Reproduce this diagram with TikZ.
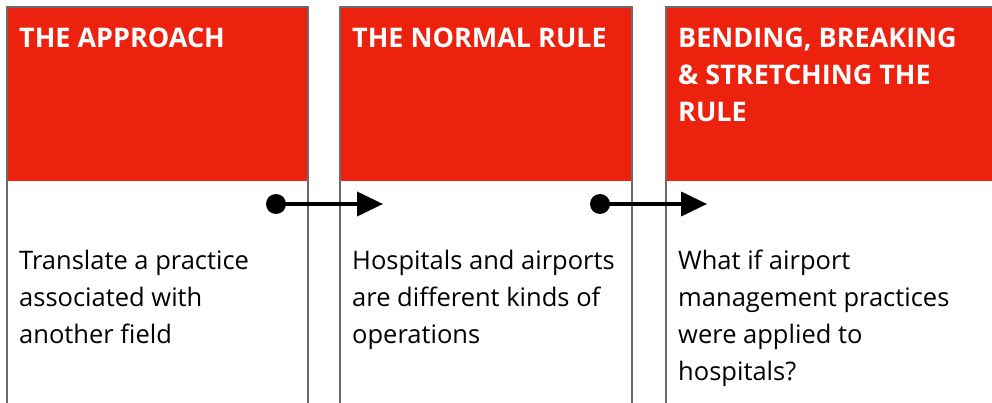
\documentclass[tikz,border=0pt]{standalone}
\usepackage{fontspec}
\setmainfont{Open Sans}
\usetikzlibrary{arrows.meta}
\definecolor{headred}{HTML}{EC220F}
\definecolor{rulegray}{HTML}{6B6B6B}
\tikzset{
  headbox/.style={fill=headred,anchor=north west,inner sep=0pt,minimum height=173pt},
  headtext/.style={anchor=base west,inner sep=0pt,align=left,text=white,
    font=\fontsize{27pt}{37pt}\selectfont\bfseries},
  bodytext/.style={anchor=base west,inner sep=0pt,align=left,text=black,
    font=\fontsize{25.5pt}{37pt}\selectfont},
  colrule/.style={draw=rulegray,line width=2pt},
  dot/.style={circle,fill=black,inner sep=0pt,minimum size=20pt},
  link/.style={line width=4pt,-{Triangle[length=26pt,width=24pt]}}
}
\begin{document}
\begin{tikzpicture}[x=1pt,y=-1pt]
        \useasboundingbox (0,0) rectangle (992,403);
        \begin{scope}[every node/.style={headbox}]
        \node[minimum width=301pt] (h1) at (7,8) {};
        \node[minimum width=292pt] (h2) at (340,8) {};
        \node[minimum width=326pt] (h3) at (666,8) {};
        \end{scope}
        \draw[colrule] (7,403) |- (308,7) -- (308,403);
        \draw[colrule] (340,403) |- (632,7) -- (632,403);
        \draw[colrule] (666,403) |- (993,7);
        % base anchor sits on the last line
        \node[headtext] (t1) at (19,48) {THE APPROACH};
        \node[headtext] (t2) at (352,48) {THE NORMAL RULE};
        \node[headtext] (t3) at (678,122) {BENDING, BREAKING\\\& STRETCHING THE\\RULE};
        \node[bodytext] (b1) at (19,343) {Translate a practice\\associated with\\another field};
        \node[bodytext] (b2) at (352,343) {Hospitals and airports\\are different kinds of\\operations};
        \node[bodytext] (b3) at (678,380) {What if airport\\management practices\\were applied to\\hospitals?};
        \node[dot] (d1) at (276,204) {};
        \node[dot] (d2) at (600,204) {};
        \coordinate (e1) at (383,204);
        \coordinate (e2) at (707,204);
        \draw[link] (d1.center) -- (e1);
        \draw[link] (d2.center) -- (e2);
\end{tikzpicture}
\end{document}
